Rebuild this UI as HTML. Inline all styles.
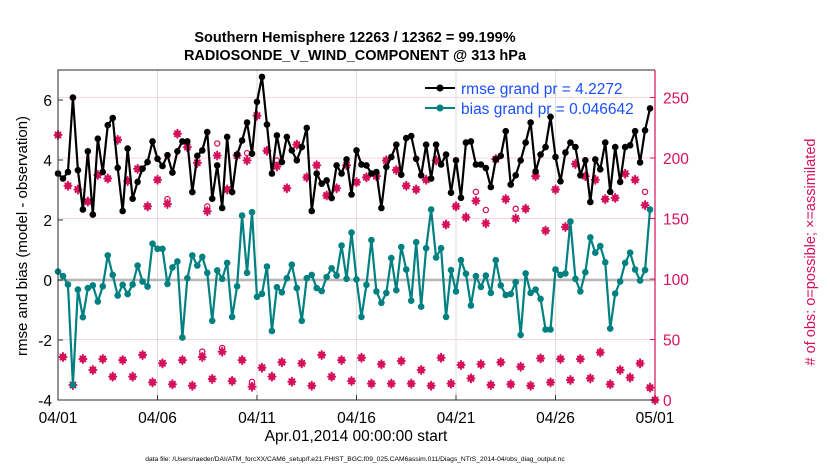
<!DOCTYPE html>
<html><head><meta charset="utf-8"><style>
body{margin:0;background:#fff;width:830px;height:470px;overflow:hidden;font-family:"Liberation Sans",Arial,sans-serif}
svg text{font-family:"Liberation Sans",Arial,sans-serif}
</style></head><body>
<svg id="chart" width="830" height="470" xmlns="http://www.w3.org/2000/svg">
<g id="grid"></g>
<g id="marks"></g>
<g id="axes"></g>
<text x="355" y="42" text-anchor="middle" font-size="14.5" font-weight="bold">Southern Hemisphere 12263 / 12362 = 99.199%</text>
<text x="355" y="60" text-anchor="middle" font-size="14.5" font-weight="bold">RADIOSONDE_V_WIND_COMPONENT @ 313 hPa</text>
<text transform="translate(27,236) rotate(-90)" text-anchor="middle" font-size="15">rmse and bias (model - observation)</text>
<text transform="translate(815,252) rotate(-90)" text-anchor="middle" font-size="14.5" fill="#d6105a"># of obs: o=possible; ×=assimilated</text>
<text x="356" y="441" text-anchor="middle" font-size="15.5">Apr.01,2014 00:00:00 start</text>
<text x="355" y="461" text-anchor="middle" font-size="6.7">data file: /Users/raeder/DAI/ATM_forcXX/CAM6_setup/f.e21.FHIST_BGC.f09_025.CAM6assim.011/Diags_NTrS_2014-04/obs_diag_output.nc</text>
<g>
<g>
<line x1="425" y1="88" x2="455" y2="88" stroke="#000" stroke-width="2"/><circle cx="440" cy="88" r="3.5" fill="#000"/>
<text x="461" y="94" font-size="15.5" fill="#1a4fff">rmse grand pr = 4.2272</text></g>
<g>
<line x1="425" y1="108" x2="455" y2="108" stroke="#008080" stroke-width="2"/><circle cx="440" cy="108" r="3.5" fill="#008080"/>
<text x="461" y="114" font-size="15.5" fill="#1a4fff">bias grand pr = 0.046642</text></g>
</g>
</svg>
<script>
const rmse=[3.55,3.38,3.6,6.08,3.66,2.35,4.29,2.18,4.71,3.6,5.16,5.4,3.74,2.3,4.38,2.71,3.27,3.71,3.93,4.62,4.04,3.8,4.16,3.58,4.29,4.62,4.62,2.93,4.14,4.32,4.93,2.71,3.82,2.4,4.77,2.93,4.18,4.65,5.25,4.21,5.94,6.77,
5.18,3.55,4.82,3.93,4.77,4.32,3.99,4.43,5.07,2.3,3.55,3.21,3.32,2.73,3.82,3.55,4.02,2.85,4.32,3.85,3.82,3.55,3.6,2.4,3.77,4.1,4.51,3.51,4.73,4.8,4.04,3.49,4.51,3.38,4.51,3.85,4.18,2.91,3.99,2.74,
4.58,4.62,3.85,3.85,3.73,3.1,4.02,4.14,4.96,3.18,3.49,3.99,4.58,5.25,3.62,4.18,4.43,5.44,4.1,3.29,4.25,4.58,4.43,3.49,3.99,2.6,4.02,3.69,4.58,2.94,4.43,3.27,4.43,4.49,4.96,3.92,4.99,5.72];
const bias=[0.28,0.13,-0.15,-3.5,-0.32,-1.24,-0.27,-0.18,-0.72,-0.21,0.82,0.17,-0.52,-0.16,-0.47,-0.15,0.48,-0.05,-0.22,1.21,1.04,1.04,-0.13,0.42,0.62,-1.92,0.06,0.82,0.48,0.77,0.24,-1.36,0.32,0.04,0.57,-1.23,-0.21,2.15,0.24,2.26,-0.56,-0.46,
0.45,-1.7,-0.24,-0.41,0.06,0.51,-0.27,-1.36,0.06,0.17,-0.27,-0.37,0.1,0.39,0.15,1.15,0.04,1.58,0.02,-1.23,-0.16,1.33,-0.38,-0.76,-0.43,0.73,-0.34,1.1,0.35,-0.69,1.26,-0.89,1.06,2.35,0.75,1.06,-1.23,0.33,-0.38,0.66,
0.21,-0.85,0.13,-0.23,0.15,-0.43,0.66,-0.18,-0.5,-0.47,-0.07,-1.83,0.22,-0.43,-0.32,-0.63,-1.65,-1.65,0.35,0.17,0.22,1.95,0.04,-0.38,0.26,1.42,0.91,1.13,0.59,-1.62,-0.45,-0.05,0.57,0.91,0.35,-0.02,0.33,2.35];
const obsAssim=[219,35.5,177,12.4,174,33.9,164,24.8,186,33.9,183,19.3,215,33,181,19.3,191,37.2,160,14.6,182,30.3,162,13,220,33,209,11.8,196,35.5,156,17.4,202,39.9,174,15.7,202,33,198,11,235,26.7,
206,19.3,193,31.2,175,15.1,211,30.3,184,11.8,194,37.2,169,19.3,175,33,194,15.7,180,34.9,184,13.5,185,29.5,198,13.5,190,32.2,177,13.5,174,24.8,182,11.8,198,34.9,145,13.5,160,28.9,
151,17.9,164.5,29.5,146,12.4,199,31.2,166,13,150,27.5,158,11.8,185,34.4,140,14.6,174,33.9,143,16.5,195,33.9,185,17.9,182,39.4,166,13,167,24.8,187,18.5,182,30.3,161,10.2,0];
const possIdx=[22,29,30,32,33,38,39,44,84,86,92,118];
const possVal=[166,40,160,212,43,204,15,198,172,157,158,172];
const xTickLabels=["04/01","04/06","04/11","04/16","04/21","04/26","05/01"];
const yTicksLeft=[-4,-2,0,2,4,6];
const yTicksRight=[0,50,100,150,200,250];

const NS="http://www.w3.org/2000/svg";
const X0=58,X1=655,YT=70,YB=400;
const nSlots=120;
const xScale=i=>X0+i*(X1-X0)/nSlots;
const yL=v=>YB-(v+4)*(YB-YT)/11;
const yR=c=>YB-c*(YB-YT)/272.7;
function mk(tag,attrs,parent){const e=document.createElementNS(NS,tag);for(const k in attrs)e.setAttribute(k,attrs[k]);parent.appendChild(e);return e;}
const grid=document.getElementById('grid'),marks=document.getElementById('marks'),axes=document.getElementById('axes');
xTickLabels.forEach((l,k)=>{const x=xScale(k*20);
 if(k>0&&k<xTickLabels.length-1){const g=mk('line',{x1:x,x2:x,y1:YT,y2:YB,stroke:'#dcdcdc','stroke-width':1},grid);
 
 }
 const t=mk('text',{x:x,y:YB+23,'text-anchor':'middle','font-size':15.5},axes);t.textContent=l;
 
 
 const tk=mk('line',{x1:x,x2:x,y1:YB,y2:YB-5,stroke:'#333'},axes);
 
 
});
yTicksRight.forEach(c=>{const y=yR(c);
 if(c>0){const g=mk('line',{x1:X0,x2:X1,y1:y,y2:y,stroke:'#f6d4e2','stroke-width':1},grid);
 
 }
 const t=mk('text',{x:X1+8,y:y+6,'font-size':15.5,fill:'#d6105a'},axes);t.textContent=c;
 
 
 mk('line',{x1:X1,x2:X1-5,y1:y,y2:y,stroke:'#d6105a'},axes);
});
yTicksLeft.forEach(v=>{const y=yL(v);
 const t=mk('text',{x:X0-6,y:y+6,'text-anchor':'end','font-size':15.5},axes);t.textContent=v;
 
 
 mk('line',{x1:X0,x2:X0+5,y1:y,y2:y,stroke:'#333'},axes);
});
const zl=mk('line',{x1:X0,x2:X1,y1:yL(0),y2:yL(0),stroke:'#b8b8b8','stroke-width':2.5},grid);


const bx=mk('path',{d:`M${X1},${YT}H${X0}V${YB}H${X1}`,fill:'none',stroke:'#2a2a2a','stroke-width':1},axes);


const ra=mk('line',{x1:X1,x2:X1,y1:YT,y2:YB,stroke:'#d6105a','stroke-width':1.2},axes);


const MC='#d6105a';
function star(x,y){const g=mk('g',{stroke:MC,'stroke-width':2,'stroke-linecap':'round'},marks);
 mk('line',{x1:x-3.5,x2:x+3.5,y1:y,y2:y},g);mk('line',{x1:x,x2:x,y1:y-4,y2:y+4},g);
 mk('line',{x1:x-2.5,x2:x+2.5,y1:y-2.5,y2:y+2.5},g);mk('line',{x1:x-2.5,x2:x+2.5,y1:y+2.5,y2:y-2.5},g);
 mk('circle',{cx:x,cy:y,r:2.2,fill:MC,stroke:'none'},g);return g;}
obsAssim.forEach((c,i)=>{
 const g=star(xScale(i),yR(c));
 
 
});
obsAssim.forEach((c,i)=>{
 const k=possIdx.indexOf(i);const v=k>=0?possVal[k]:c;
 const o=mk('circle',{cx:xScale(i),cy:yR(v),r:2.6,fill:'none',stroke:MC,'stroke-width':1.3},marks);
 
 
});
function series(vals,color,name){
 const d=vals.map((v,i)=>(i?'L':'M')+xScale(i).toFixed(2)+','+yL(v).toFixed(2)).join('');
 const p=mk('path',{d:d,fill:'none',stroke:color,'stroke-width':2.2,'stroke-linejoin':'round'},marks);
 
 
 vals.forEach((v,i)=>{const c=mk('circle',{cx:xScale(i),cy:yL(v),r:3.3,fill:color},marks);
  
  });
}
series(bias,'#008080','bias');
series(rmse,'#000000','rmse');
</script>
</body></html>
